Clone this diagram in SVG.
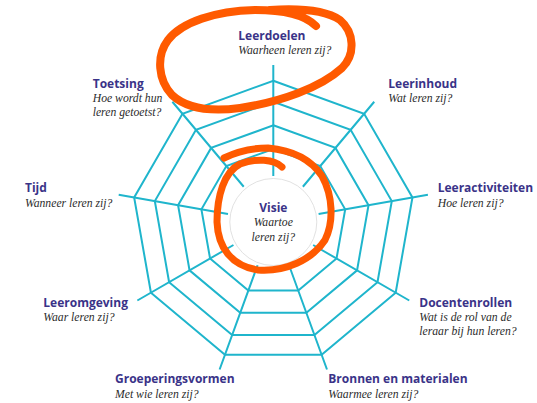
<svg xmlns="http://www.w3.org/2000/svg" width="537" height="403" viewBox="0 0 537 403">
<style>
.web{fill:none;stroke:#1fb5cc;stroke-width:2;stroke-linejoin:miter}
.t{font-family:"Open Sans","Liberation Sans",sans-serif;font-weight:700;font-size:12px;fill:#3a3388}
.q{font-family:"Liberation Serif","DejaVu Serif",serif;font-style:italic;font-size:11.7px;fill:#2b2b2b}
.mark{fill:none;stroke:#ff5a00;stroke-width:8;stroke-linecap:round;stroke-linejoin:round}
</style>
<rect width="537" height="403" fill="#fff"/>
<g id="connectors" class="web" transform="translate(273.3,222)">
<polygon points="0,-141.3 90.83,-108.24 139.15,-24.53 122.37,70.65 48.33,132.78 -48.33,132.78 -122.37,70.65 -139.15,-24.53 -90.83,-108.24"/>
<polygon points="0,-120.3 77.33,-92.15 118.47,-20.88 104.18,60.15 41.14,113.05 -41.14,113.05 -104.18,60.15 -118.47,-20.88 -77.33,-92.15"/>
<polygon points="0,-96.7 62.16,-74.07 95.23,-16.79 83.74,48.35 33.07,90.87 -33.07,90.87 -83.74,48.35 -95.23,-16.79 -62.16,-74.07"/>
<polygon points="0,-73 46.92,-55.92 71.89,-12.67 63.22,36.5 24.97,68.6 -24.97,68.6 -63.22,36.5 -71.89,-12.67 -46.92,-55.92"/>
<path d="M0,-46V-157 M29.57,-35.24L100.92,-120.26 M45.3,-7.99L154.61,-27.26 M39.84,23L135.96,78.5 M15.73,43.23L53.69,147.53 M-15.73,43.23L-53.69,147.53 M-39.84,23L-135.96,78.5 M-45.3,-7.99L-154.61,-27.26 M-29.57,-35.24L-100.92,-120.26"/>
</g>
<g id="visie">
<circle cx="273.3" cy="222" r="43.5" fill="#fff" stroke="#d9d9d9" stroke-width="0.8"/>
<text class="t" x="273.3" y="211.5" text-anchor="middle">Visie</text>
<text class="q" x="273.3" y="226" text-anchor="middle">Waartoe</text>
<text class="q" x="273.3" y="240.5" text-anchor="middle">leren zij?</text>
</g>
<g id="leerdoelen">
<text class="t" x="238.3" y="40">Leerdoelen</text>
<text class="q" x="238.3" y="53.5">Waarheen leren zij?</text>
</g>
<g id="leerinhoud">
<text class="t" x="388.3" y="87.5">Leerinhoud</text>
<text class="q" x="388.3" y="101.7">Wat leren zij?</text>
</g>
<g id="leeractiviteiten">
<text class="t" x="437.7" y="191.7">Leeractiviteiten</text>
<text class="q" x="437.7" y="206.5">Hoe leren zij?</text>
</g>
<g id="docentenrollen">
<text class="t" x="419.3" y="306.7">Docentenrollen</text>
<text class="q" x="419.3" y="320.8">Wat is de rol van de</text>
<text class="q" x="419.3" y="335">leraar bij hun leren?</text>
</g>
<g id="bronnen">
<text class="t" x="328.3" y="383.3">Bronnen en materialen</text>
<text class="q" x="328.3" y="398.3">Waarmee leren zij?</text>
</g>
<g id="groeperingsvormen">
<text class="t" x="115" y="383.3">Groeperingsvormen</text>
<text class="q" x="115" y="398.3">Met wie leren zij?</text>
</g>
<g id="leeromgeving">
<text class="t" x="43.3" y="306.7">Leeromgeving</text>
<text class="q" x="43.3" y="320.5">Waar leren zij?</text>
</g>
<g id="tijd">
<text class="t" x="25" y="191.7">Tijd</text>
<text class="q" x="25" y="206.5">Wanneer leren zij?</text>
</g>
<g id="toetsing">
<text class="t" x="92.7" y="87.7">Toetsing</text>
<text class="q" x="92.7" y="101.7">Hoe wordt hun</text>
<text class="q" x="92.7" y="115.7">leren getoetst?</text>
</g>
<g id="annotations">
<path class="mark" d="M316,26 C305,15 285,10 255,10 C215,11 182,22 168,40 C156,56 158,80 172,95 C186,108 210,112 240,108 C280,102 320,88 342,68 C356,54 354,32 340,20 C325,10 300,8 270,10"/>
<path class="mark" d="M282,167 C274,159 256,158 240,164 C224,172 217,196 217,222 C218,248 232,266 258,270 C285,272 312,260 325,240 C334,222 333,196 322,176 C310,158 290,150 268,148 C252,148 236,152 224,158" style="stroke-width:7"/>
</g>
</svg>
